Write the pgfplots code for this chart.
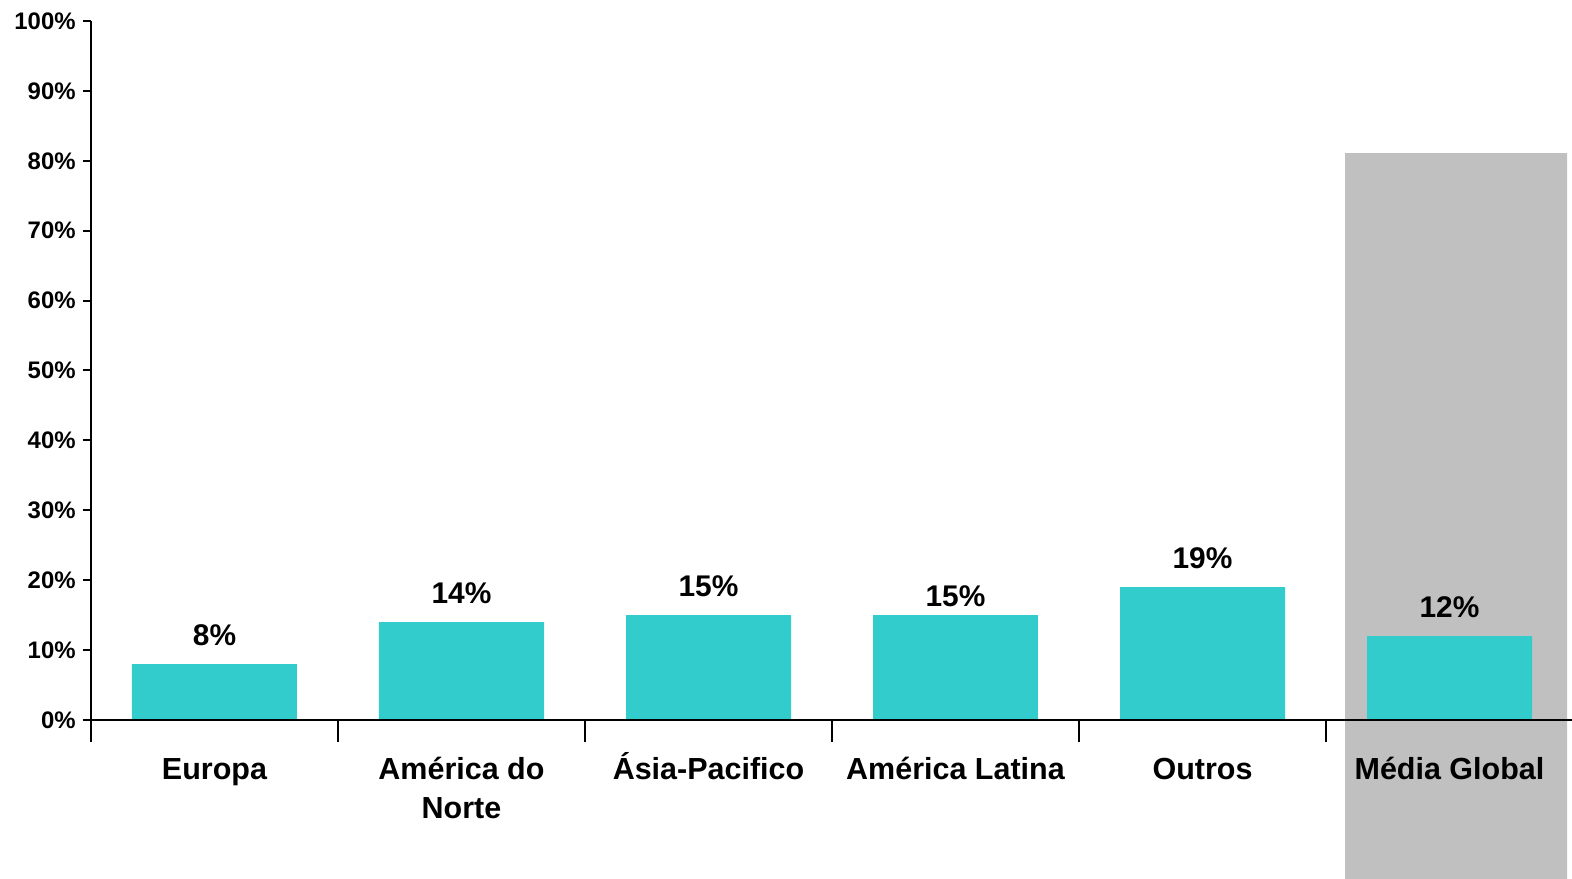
\documentclass[border=0pt]{standalone}
\usepackage{pgfplots}
\pgfplotsset{compat=1.18}
\usepackage{fontspec}
\setmainfont{Liberation Sans}
\usetikzlibrary{calc}
\definecolor{barc}{HTML}{33CCCC}
\definecolor{greyc}{HTML}{C0C0C0}
\newcommand{\lh}{\vphantom{Mdé}}
\begin{document}
\begin{tikzpicture}
\begin{axis}[
  scale only axis,
  width=741bp, height=349.5bp,
  xmin=-0.5, xmax=5.5, ymin=0, ymax=100,
  clip=false,
  axis on top,
  axis lines*=left,
  axis line style={line width=1.3bp},
  xtick={-0.5,0.5,1.5,2.5,3.5,4.5,5.5},
  x tick label as interval,
  xticklabels={\lh Europa,{\lh América do\\Norte},{\lh\smash{Á}sia-Pacifico},\lh América Latina,\lh Outros,\lh Média Global},
  major tick length=4bp,
  x tick style={line width=1bp, black, /pgfplots/major tick length=11bp},
  xticklabel style={font=\fontsize{15.3}{19.5}\selectfont\bfseries, align=center, anchor=north, inner sep=0pt, yshift=-14.3bp},
  ytick={0,10,...,100},
  yticklabel={\pgfmathprintnumber{\tick}\%},
  yticklabel style={font=\fontsize{12}{14}\selectfont\bfseries, inner sep=0pt, xshift=-3.5bp},
  y tick style={line width=1bp, black},
  tick align=outside,
  /pgf/number format/assume math mode=true,
]
\addplot[fill=greyc, draw=none] coordinates {(4.577,-22.8) (5.476,-22.8) (5.476,81.1) (4.577,81.1) (4.577,-22.8)};
\addplot[ybar, bar width=82.5bp, bar shift=0pt, fill=barc, draw=none,
  nodes near coords={\pgfmathprintnumber{\pgfplotspointmeta}\%},
  every node near coord/.style={font=\fontsize{15}{18}\selectfont\bfseries, anchor=base, inner sep=0pt, yshift=9.5bp, black}]
  coordinates {(0,8) (1,14) (2,15) (4,19) (5,12)};
\addplot[ybar, bar width=82.5bp, bar shift=0pt, fill=barc, draw=none,
  nodes near coords={\pgfmathprintnumber{\pgfplotspointmeta}\%},
  every node near coord/.style={font=\fontsize{15}{18}\selectfont\bfseries, anchor=base, inner sep=0pt, yshift=4.5bp, black}]
  coordinates {(3,15)};
\coordinate (bl) at (rel axis cs:0,0);
\end{axis}
\pgfresetboundingbox
\useasboundingbox ($(bl)+(-45.5bp,-79.5bp)$) rectangle ($(bl)+(740.5bp,360bp)$);
\end{tikzpicture}
\end{document}
